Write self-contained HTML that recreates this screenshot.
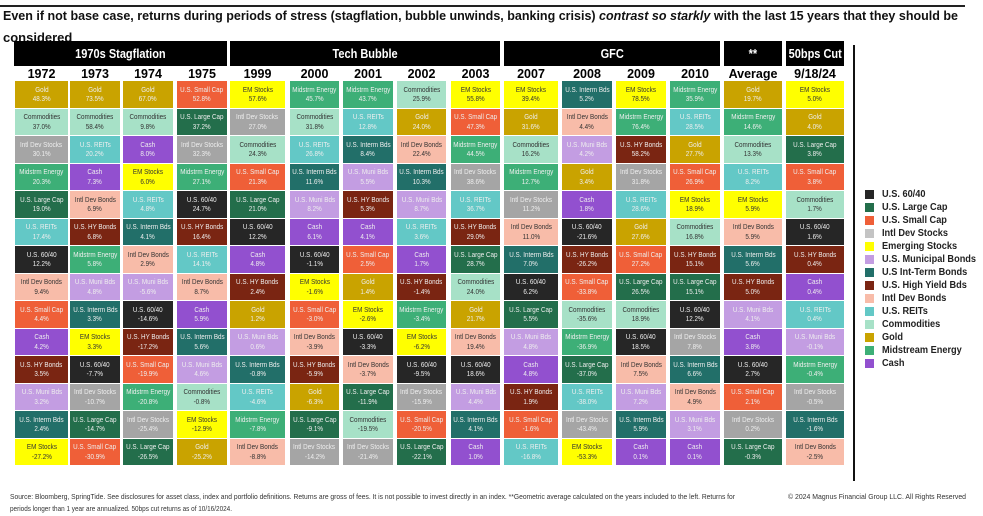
<!DOCTYPE html>
<html><head><meta charset="utf-8">
<style>
*{margin:0;padding:0;box-sizing:border-box}
body{width:983px;height:516px;background:#fff;position:relative;overflow:hidden;font-family:"Liberation Sans",Arial,sans-serif}
.band{position:absolute;top:41px;height:25px;background:#000;color:#fff;font-weight:bold;font-size:12.5px;display:flex;align-items:center;justify-content:center;z-index:2;white-space:nowrap}
.band span{display:block;transform:scaleX(.88)}
.yr{position:absolute;top:66px;height:16px;font-weight:bold;font-size:12.5px;text-align:center;line-height:16px;color:#000;white-space:nowrap}
.col{position:absolute;top:81px}
.col div{height:26.5px;margin-bottom:1px;font-size:7.5px;line-height:9.5px;text-align:center;color:#eee;display:flex;flex-direction:column;justify-content:center;align-items:center;white-space:nowrap;overflow:hidden}
.col div span{display:block;transform:scaleX(.84)}
.a{background:#262626}.l{background:#236e4b}.s{background:#ef5f38}.i{background:#a5a5a5}
.e{background:#ffff00;color:#333!important}.m{background:#c39de2}.t{background:#226f69}
.h{background:#7a2512}.b{background:#f8bca9;color:#333!important}.r{background:#63c8c6}
.c{background:#a7e1c7;color:#333!important}.g{background:#c9a300}.n{background:#3daf77}.k{background:#9250cf}
.lg{position:absolute;left:865px;font-size:10px;font-weight:bold;color:#222;line-height:13px}
.lg i{position:absolute;left:0;top:2px;width:9px;height:9px}
.lg b{position:absolute;left:17px;top:0;white-space:nowrap;transform:scaleX(.92);transform-origin:left}
</style></head><body>
<div style="position:absolute;left:0;top:5px;width:965px;height:2px;background:#222"></div>
<svg style="position:absolute;left:0;top:0" width="983" height="45">
<text x="3" y="20" font-family="Liberation Sans,Arial,sans-serif" font-weight="bold" font-size="13" textLength="955" lengthAdjust="spacingAndGlyphs" fill="#111">Even if not base case, returns during periods of stress (stagflation, bubble unwinds, banking crisis) <tspan font-style="italic">contrast so starkly</tspan> with the last 15 years that they should be</text>
<text x="3" y="42" font-family="Liberation Sans,Arial,sans-serif" font-weight="bold" font-size="13" fill="#111">considered</text>
</svg>
<div style="position:absolute;left:853px;top:45px;width:2px;height:436px;background:#111"></div>

<div class="band" style="left:14px;width:213px"><span>1970s Stagflation</span></div>
<div class="band" style="left:230px;width:270px"><span>Tech Bubble</span></div>
<div class="band" style="left:504px;width:216px"><span>GFC</span></div>
<div class="band" style="left:724px;width:58px"><span>**</span></div>
<div class="band" style="left:786px;width:58px"><span>50bps Cut</span></div>

<div class="yr" style="left:15px;width:53px">1972</div>
<div class="yr" style="left:70px;width:50px">1973</div>
<div class="yr" style="left:123px;width:50px">1974</div>
<div class="yr" style="left:177px;width:50px">1975</div>
<div class="yr" style="left:230px;width:55px">1999</div>
<div class="yr" style="left:290px;width:49px">2000</div>
<div class="yr" style="left:343px;width:50px">2001</div>
<div class="yr" style="left:397px;width:49px">2002</div>
<div class="yr" style="left:451px;width:49px">2003</div>
<div class="yr" style="left:504px;width:54px">2007</div>
<div class="yr" style="left:562px;width:50px">2008</div>
<div class="yr" style="left:616px;width:50px">2009</div>
<div class="yr" style="left:670px;width:50px">2010</div>
<div class="yr" style="left:724px;width:58px">Average</div>
<div class="yr" style="left:786px;width:58px">9/18/24</div>

<div class="col" style="left:15px;width:53px">
<div class="g"><span>Gold</span><span>48.3%</span></div>
<div class="c"><span>Commodities</span><span>37.0%</span></div>
<div class="i"><span>Intl Dev Stocks</span><span>30.1%</span></div>
<div class="n"><span>Midstrm Energy</span><span>20.3%</span></div>
<div class="l"><span>U.S. Large Cap</span><span>19.0%</span></div>
<div class="r"><span>U.S. REITs</span><span>17.4%</span></div>
<div class="a"><span>U.S. 60/40</span><span>12.2%</span></div>
<div class="b"><span>Intl Dev Bonds</span><span>9.4%</span></div>
<div class="s"><span>U.S. Small Cap</span><span>4.4%</span></div>
<div class="k"><span>Cash</span><span>4.2%</span></div>
<div class="h"><span>U.S. HY Bonds</span><span>3.5%</span></div>
<div class="m"><span>U.S. Muni Bds</span><span>3.2%</span></div>
<div class="t"><span>U.S. Interm Bds</span><span>2.4%</span></div>
<div class="e"><span>EM Stocks</span><span>-27.2%</span></div>
</div>
<div class="col" style="left:70px;width:50px">
<div class="g"><span>Gold</span><span>73.5%</span></div>
<div class="c"><span>Commodities</span><span>58.4%</span></div>
<div class="r"><span>U.S. REITs</span><span>20.2%</span></div>
<div class="k"><span>Cash</span><span>7.3%</span></div>
<div class="b"><span>Intl Dev Bonds</span><span>6.9%</span></div>
<div class="h"><span>U.S. HY Bonds</span><span>6.8%</span></div>
<div class="n"><span>Midstrm Energy</span><span>5.8%</span></div>
<div class="m"><span>U.S. Muni Bds</span><span>4.8%</span></div>
<div class="t"><span>U.S. Interm Bds</span><span>3.3%</span></div>
<div class="e"><span>EM Stocks</span><span>3.3%</span></div>
<div class="a"><span>U.S. 60/40</span><span>-7.7%</span></div>
<div class="i"><span>Intl Dev Stocks</span><span>-10.7%</span></div>
<div class="l"><span>U.S. Large Cap</span><span>-14.7%</span></div>
<div class="s"><span>U.S. Small Cap</span><span>-30.9%</span></div>
</div>
<div class="col" style="left:123px;width:50px">
<div class="g"><span>Gold</span><span>67.0%</span></div>
<div class="c"><span>Commodities</span><span>9.8%</span></div>
<div class="k"><span>Cash</span><span>8.0%</span></div>
<div class="e"><span>EM Stocks</span><span>6.0%</span></div>
<div class="r"><span>U.S. REITs</span><span>4.8%</span></div>
<div class="t"><span>U.S. Interm Bds</span><span>4.1%</span></div>
<div class="b"><span>Intl Dev Bonds</span><span>2.9%</span></div>
<div class="m"><span>U.S. Muni Bds</span><span>-5.6%</span></div>
<div class="a"><span>U.S. 60/40</span><span>-14.6%</span></div>
<div class="h"><span>U.S. HY Bonds</span><span>-17.2%</span></div>
<div class="s"><span>U.S. Small Cap</span><span>-19.9%</span></div>
<div class="n"><span>Midstrm Energy</span><span>-20.8%</span></div>
<div class="i"><span>Intl Dev Stocks</span><span>-25.4%</span></div>
<div class="l"><span>U.S. Large Cap</span><span>-26.5%</span></div>
</div>
<div class="col" style="left:177px;width:50px">
<div class="s"><span>U.S. Small Cap</span><span>52.8%</span></div>
<div class="l"><span>U.S. Large Cap</span><span>37.2%</span></div>
<div class="i"><span>Intl Dev Stocks</span><span>32.3%</span></div>
<div class="n"><span>Midstrm Energy</span><span>27.1%</span></div>
<div class="a"><span>U.S. 60/40</span><span>24.7%</span></div>
<div class="h"><span>U.S. HY Bonds</span><span>16.4%</span></div>
<div class="r"><span>U.S. REITs</span><span>14.1%</span></div>
<div class="b"><span>Intl Dev Bonds</span><span>8.7%</span></div>
<div class="k"><span>Cash</span><span>5.9%</span></div>
<div class="t"><span>U.S. Interm Bds</span><span>5.6%</span></div>
<div class="m"><span>U.S. Muni Bds</span><span>4.6%</span></div>
<div class="c"><span>Commodities</span><span>-0.8%</span></div>
<div class="e"><span>EM Stocks</span><span>-12.9%</span></div>
<div class="g"><span>Gold</span><span>-25.2%</span></div>
</div>
<div class="col" style="left:230px;width:55px">
<div class="e"><span>EM Stocks</span><span>57.6%</span></div>
<div class="i"><span>Intl Dev Stocks</span><span>27.0%</span></div>
<div class="c"><span>Commodities</span><span>24.3%</span></div>
<div class="s"><span>U.S. Small Cap</span><span>21.3%</span></div>
<div class="l"><span>U.S. Large Cap</span><span>21.0%</span></div>
<div class="a"><span>U.S. 60/40</span><span>12.2%</span></div>
<div class="k"><span>Cash</span><span>4.8%</span></div>
<div class="h"><span>U.S. HY Bonds</span><span>2.4%</span></div>
<div class="g"><span>Gold</span><span>1.2%</span></div>
<div class="m"><span>U.S. Muni Bds</span><span>0.6%</span></div>
<div class="t"><span>U.S. Interm Bds</span><span>-0.8%</span></div>
<div class="r"><span>U.S. REITs</span><span>-4.6%</span></div>
<div class="n"><span>Midstrm Energy</span><span>-7.8%</span></div>
<div class="b"><span>Intl Dev Bonds</span><span>-8.8%</span></div>
</div>
<div class="col" style="left:290px;width:49px">
<div class="n"><span>Midstrm Energy</span><span>45.7%</span></div>
<div class="c"><span>Commodities</span><span>31.8%</span></div>
<div class="r"><span>U.S. REITs</span><span>26.8%</span></div>
<div class="t"><span>U.S. Interm Bds</span><span>11.6%</span></div>
<div class="m"><span>U.S. Muni Bds</span><span>8.2%</span></div>
<div class="k"><span>Cash</span><span>6.1%</span></div>
<div class="a"><span>U.S. 60/40</span><span>-1.1%</span></div>
<div class="e"><span>EM Stocks</span><span>-1.6%</span></div>
<div class="s"><span>U.S. Small Cap</span><span>-3.0%</span></div>
<div class="b"><span>Intl Dev Bonds</span><span>-3.9%</span></div>
<div class="h"><span>U.S. HY Bonds</span><span>-5.9%</span></div>
<div class="g"><span>Gold</span><span>-6.3%</span></div>
<div class="l"><span>U.S. Large Cap</span><span>-9.1%</span></div>
<div class="i"><span>Intl Dev Stocks</span><span>-14.2%</span></div>
</div>
<div class="col" style="left:343px;width:50px">
<div class="n"><span>Midstrm Energy</span><span>43.7%</span></div>
<div class="r"><span>U.S. REITs</span><span>12.8%</span></div>
<div class="t"><span>U.S. Interm Bds</span><span>8.4%</span></div>
<div class="m"><span>U.S. Muni Bds</span><span>5.5%</span></div>
<div class="h"><span>U.S. HY Bonds</span><span>5.3%</span></div>
<div class="k"><span>Cash</span><span>4.1%</span></div>
<div class="s"><span>U.S. Small Cap</span><span>2.5%</span></div>
<div class="g"><span>Gold</span><span>1.4%</span></div>
<div class="e"><span>EM Stocks</span><span>-2.6%</span></div>
<div class="a"><span>U.S. 60/40</span><span>-3.3%</span></div>
<div class="b"><span>Intl Dev Bonds</span><span>-3.7%</span></div>
<div class="l"><span>U.S. Large Cap</span><span>-11.9%</span></div>
<div class="c"><span>Commodities</span><span>-19.5%</span></div>
<div class="i"><span>Intl Dev Stocks</span><span>-21.4%</span></div>
</div>
<div class="col" style="left:397px;width:49px">
<div class="c"><span>Commodities</span><span>25.9%</span></div>
<div class="g"><span>Gold</span><span>24.0%</span></div>
<div class="b"><span>Intl Dev Bonds</span><span>22.4%</span></div>
<div class="t"><span>U.S. Interm Bds</span><span>10.3%</span></div>
<div class="m"><span>U.S. Muni Bds</span><span>8.7%</span></div>
<div class="r"><span>U.S. REITs</span><span>3.6%</span></div>
<div class="k"><span>Cash</span><span>1.7%</span></div>
<div class="h"><span>U.S. HY Bonds</span><span>-1.4%</span></div>
<div class="n"><span>Midstrm Energy</span><span>-3.4%</span></div>
<div class="e"><span>EM Stocks</span><span>-6.2%</span></div>
<div class="a"><span>U.S. 60/40</span><span>-9.5%</span></div>
<div class="i"><span>Intl Dev Stocks</span><span>-15.9%</span></div>
<div class="s"><span>U.S. Small Cap</span><span>-20.5%</span></div>
<div class="l"><span>U.S. Large Cap</span><span>-22.1%</span></div>
</div>
<div class="col" style="left:451px;width:49px">
<div class="e"><span>EM Stocks</span><span>55.8%</span></div>
<div class="s"><span>U.S. Small Cap</span><span>47.3%</span></div>
<div class="n"><span>Midstrm Energy</span><span>44.5%</span></div>
<div class="i"><span>Intl Dev Stocks</span><span>38.6%</span></div>
<div class="r"><span>U.S. REITs</span><span>36.7%</span></div>
<div class="h"><span>U.S. HY Bonds</span><span>29.0%</span></div>
<div class="l"><span>U.S. Large Cap</span><span>28.7%</span></div>
<div class="c"><span>Commodities</span><span>24.0%</span></div>
<div class="g"><span>Gold</span><span>21.7%</span></div>
<div class="b"><span>Intl Dev Bonds</span><span>19.4%</span></div>
<div class="a"><span>U.S. 60/40</span><span>18.6%</span></div>
<div class="m"><span>U.S. Muni Bds</span><span>4.4%</span></div>
<div class="t"><span>U.S. Interm Bds</span><span>4.1%</span></div>
<div class="k"><span>Cash</span><span>1.0%</span></div>
</div>
<div class="col" style="left:504px;width:54px">
<div class="e"><span>EM Stocks</span><span>39.4%</span></div>
<div class="g"><span>Gold</span><span>31.6%</span></div>
<div class="c"><span>Commodities</span><span>16.2%</span></div>
<div class="n"><span>Midstrm Energy</span><span>12.7%</span></div>
<div class="i"><span>Intl Dev Stocks</span><span>11.2%</span></div>
<div class="b"><span>Intl Dev Bonds</span><span>11.0%</span></div>
<div class="t"><span>U.S. Interm Bds</span><span>7.0%</span></div>
<div class="a"><span>U.S. 60/40</span><span>6.2%</span></div>
<div class="l"><span>U.S. Large Cap</span><span>5.5%</span></div>
<div class="m"><span>U.S. Muni Bds</span><span>4.8%</span></div>
<div class="k"><span>Cash</span><span>4.8%</span></div>
<div class="h"><span>U.S. HY Bonds</span><span>1.9%</span></div>
<div class="s"><span>U.S. Small Cap</span><span>-1.6%</span></div>
<div class="r"><span>U.S. REITs</span><span>-16.8%</span></div>
</div>
<div class="col" style="left:562px;width:50px">
<div class="t"><span>U.S. Interm Bds</span><span>5.2%</span></div>
<div class="b"><span>Intl Dev Bonds</span><span>4.4%</span></div>
<div class="m"><span>U.S. Muni Bds</span><span>4.2%</span></div>
<div class="g"><span>Gold</span><span>3.4%</span></div>
<div class="k"><span>Cash</span><span>1.8%</span></div>
<div class="a"><span>U.S. 60/40</span><span>-21.6%</span></div>
<div class="h"><span>U.S. HY Bonds</span><span>-26.2%</span></div>
<div class="s"><span>U.S. Small Cap</span><span>-33.8%</span></div>
<div class="c"><span>Commodities</span><span>-35.6%</span></div>
<div class="n"><span>Midstrm Energy</span><span>-36.9%</span></div>
<div class="l"><span>U.S. Large Cap</span><span>-37.0%</span></div>
<div class="r"><span>U.S. REITs</span><span>-38.0%</span></div>
<div class="i"><span>Intl Dev Stocks</span><span>-43.4%</span></div>
<div class="e"><span>EM Stocks</span><span>-53.3%</span></div>
</div>
<div class="col" style="left:616px;width:50px">
<div class="e"><span>EM Stocks</span><span>78.5%</span></div>
<div class="n"><span>Midstrm Energy</span><span>76.4%</span></div>
<div class="h"><span>U.S. HY Bonds</span><span>58.2%</span></div>
<div class="i"><span>Intl Dev Stocks</span><span>31.8%</span></div>
<div class="r"><span>U.S. REITs</span><span>28.6%</span></div>
<div class="g"><span>Gold</span><span>27.6%</span></div>
<div class="s"><span>U.S. Small Cap</span><span>27.2%</span></div>
<div class="l"><span>U.S. Large Cap</span><span>26.5%</span></div>
<div class="c"><span>Commodities</span><span>18.9%</span></div>
<div class="a"><span>U.S. 60/40</span><span>18.5%</span></div>
<div class="b"><span>Intl Dev Bonds</span><span>7.5%</span></div>
<div class="m"><span>U.S. Muni Bds</span><span>7.2%</span></div>
<div class="t"><span>U.S. Interm Bds</span><span>5.9%</span></div>
<div class="k"><span>Cash</span><span>0.1%</span></div>
</div>
<div class="col" style="left:670px;width:50px">
<div class="n"><span>Midstrm Energy</span><span>35.9%</span></div>
<div class="r"><span>U.S. REITs</span><span>28.5%</span></div>
<div class="g"><span>Gold</span><span>27.7%</span></div>
<div class="s"><span>U.S. Small Cap</span><span>26.9%</span></div>
<div class="e"><span>EM Stocks</span><span>18.9%</span></div>
<div class="c"><span>Commodities</span><span>16.8%</span></div>
<div class="h"><span>U.S. HY Bonds</span><span>15.1%</span></div>
<div class="l"><span>U.S. Large Cap</span><span>15.1%</span></div>
<div class="a"><span>U.S. 60/40</span><span>12.2%</span></div>
<div class="i"><span>Intl Dev Stocks</span><span>7.8%</span></div>
<div class="t"><span>U.S. Interm Bds</span><span>6.6%</span></div>
<div class="b"><span>Intl Dev Bonds</span><span>4.9%</span></div>
<div class="m"><span>U.S. Muni Bds</span><span>3.1%</span></div>
<div class="k"><span>Cash</span><span>0.1%</span></div>
</div>
<div class="col" style="left:724px;width:58px">
<div class="g"><span>Gold</span><span>19.7%</span></div>
<div class="n"><span>Midstrm Energy</span><span>14.6%</span></div>
<div class="c"><span>Commodities</span><span>13.3%</span></div>
<div class="r"><span>U.S. REITs</span><span>8.2%</span></div>
<div class="e"><span>EM Stocks</span><span>5.9%</span></div>
<div class="b"><span>Intl Dev Bonds</span><span>5.9%</span></div>
<div class="t"><span>U.S. Interm Bds</span><span>5.6%</span></div>
<div class="h"><span>U.S. HY Bonds</span><span>5.0%</span></div>
<div class="m"><span>U.S. Muni Bds</span><span>4.1%</span></div>
<div class="k"><span>Cash</span><span>3.8%</span></div>
<div class="a"><span>U.S. 60/40</span><span>2.7%</span></div>
<div class="s"><span>U.S. Small Cap</span><span>2.1%</span></div>
<div class="i"><span>Intl Dev Stocks</span><span>0.2%</span></div>
<div class="l"><span>U.S. Large Cap</span><span>-0.3%</span></div>
</div>
<div class="col" style="left:786px;width:58px">
<div class="e"><span>EM Stocks</span><span>5.0%</span></div>
<div class="g"><span>Gold</span><span>4.0%</span></div>
<div class="l"><span>U.S. Large Cap</span><span>3.8%</span></div>
<div class="s"><span>U.S. Small Cap</span><span>3.8%</span></div>
<div class="c"><span>Commodities</span><span>1.7%</span></div>
<div class="a"><span>U.S. 60/40</span><span>1.6%</span></div>
<div class="h"><span>U.S. HY Bonds</span><span>0.4%</span></div>
<div class="k"><span>Cash</span><span>0.4%</span></div>
<div class="r"><span>U.S. REITs</span><span>0.4%</span></div>
<div class="m"><span>U.S. Muni Bds</span><span>-0.1%</span></div>
<div class="n"><span>Midstrm Energy</span><span>-0.4%</span></div>
<div class="i"><span>Intl Dev Stocks</span><span>-0.5%</span></div>
<div class="t"><span>U.S. Interm Bds</span><span>-1.6%</span></div>
<div class="b"><span>Intl Dev Bonds</span><span>-2.5%</span></div>
</div>

<div class="lg" style="top:188px"><i class="a"></i><b>U.S. 60/40</b></div>
<div class="lg" style="top:201px"><i class="l"></i><b>U.S. Large Cap</b></div>
<div class="lg" style="top:214px"><i class="s"></i><b>U.S. Small Cap</b></div>
<div class="lg" style="top:227px"><i style="background:#c4c4c4"></i><b>Intl Dev Stocks</b></div>
<div class="lg" style="top:240px"><i class="e"></i><b>Emerging Stocks</b></div>
<div class="lg" style="top:253px"><i class="m"></i><b>U.S. Municipal Bonds</b></div>
<div class="lg" style="top:266px"><i class="t"></i><b>U.S Int-Term Bonds</b></div>
<div class="lg" style="top:279px"><i class="h"></i><b>U.S. High Yield Bds</b></div>
<div class="lg" style="top:292px"><i class="b"></i><b>Intl Dev Bonds</b></div>
<div class="lg" style="top:305px"><i class="r"></i><b>U.S. REITs</b></div>
<div class="lg" style="top:318px"><i class="c"></i><b>Commodities</b></div>
<div class="lg" style="top:331px"><i class="g"></i><b>Gold</b></div>
<div class="lg" style="top:344px"><i class="n"></i><b>Midstream Energy</b></div>
<div class="lg" style="top:357px"><i class="k"></i><b>Cash</b></div>

<svg style="position:absolute;left:0;top:488px" width="983" height="28">
<text x="10" y="11" font-family="Liberation Sans,Arial,sans-serif" font-size="7.5" fill="#333" textLength="725" lengthAdjust="spacingAndGlyphs">Source: Bloomberg, SpringTide. See disclosures for asset class, index and portfolio definitions. Returns are gross of fees. It is not possible to invest directly in an index. **Geometric average calculated on the years included to the left. Returns for</text>
<text x="10" y="23" font-family="Liberation Sans,Arial,sans-serif" font-size="7.5" fill="#333" textLength="222" lengthAdjust="spacingAndGlyphs">periods longer than 1 year are annualized. 50bps cut returns as of 10/16/2024.</text>
<text x="788" y="11" font-family="Liberation Sans,Arial,sans-serif" font-size="7.5" fill="#333" textLength="178" lengthAdjust="spacingAndGlyphs">© 2024 Magnus Financial Group LLC. All Rights Reserved</text>
</svg>
</body></html>
